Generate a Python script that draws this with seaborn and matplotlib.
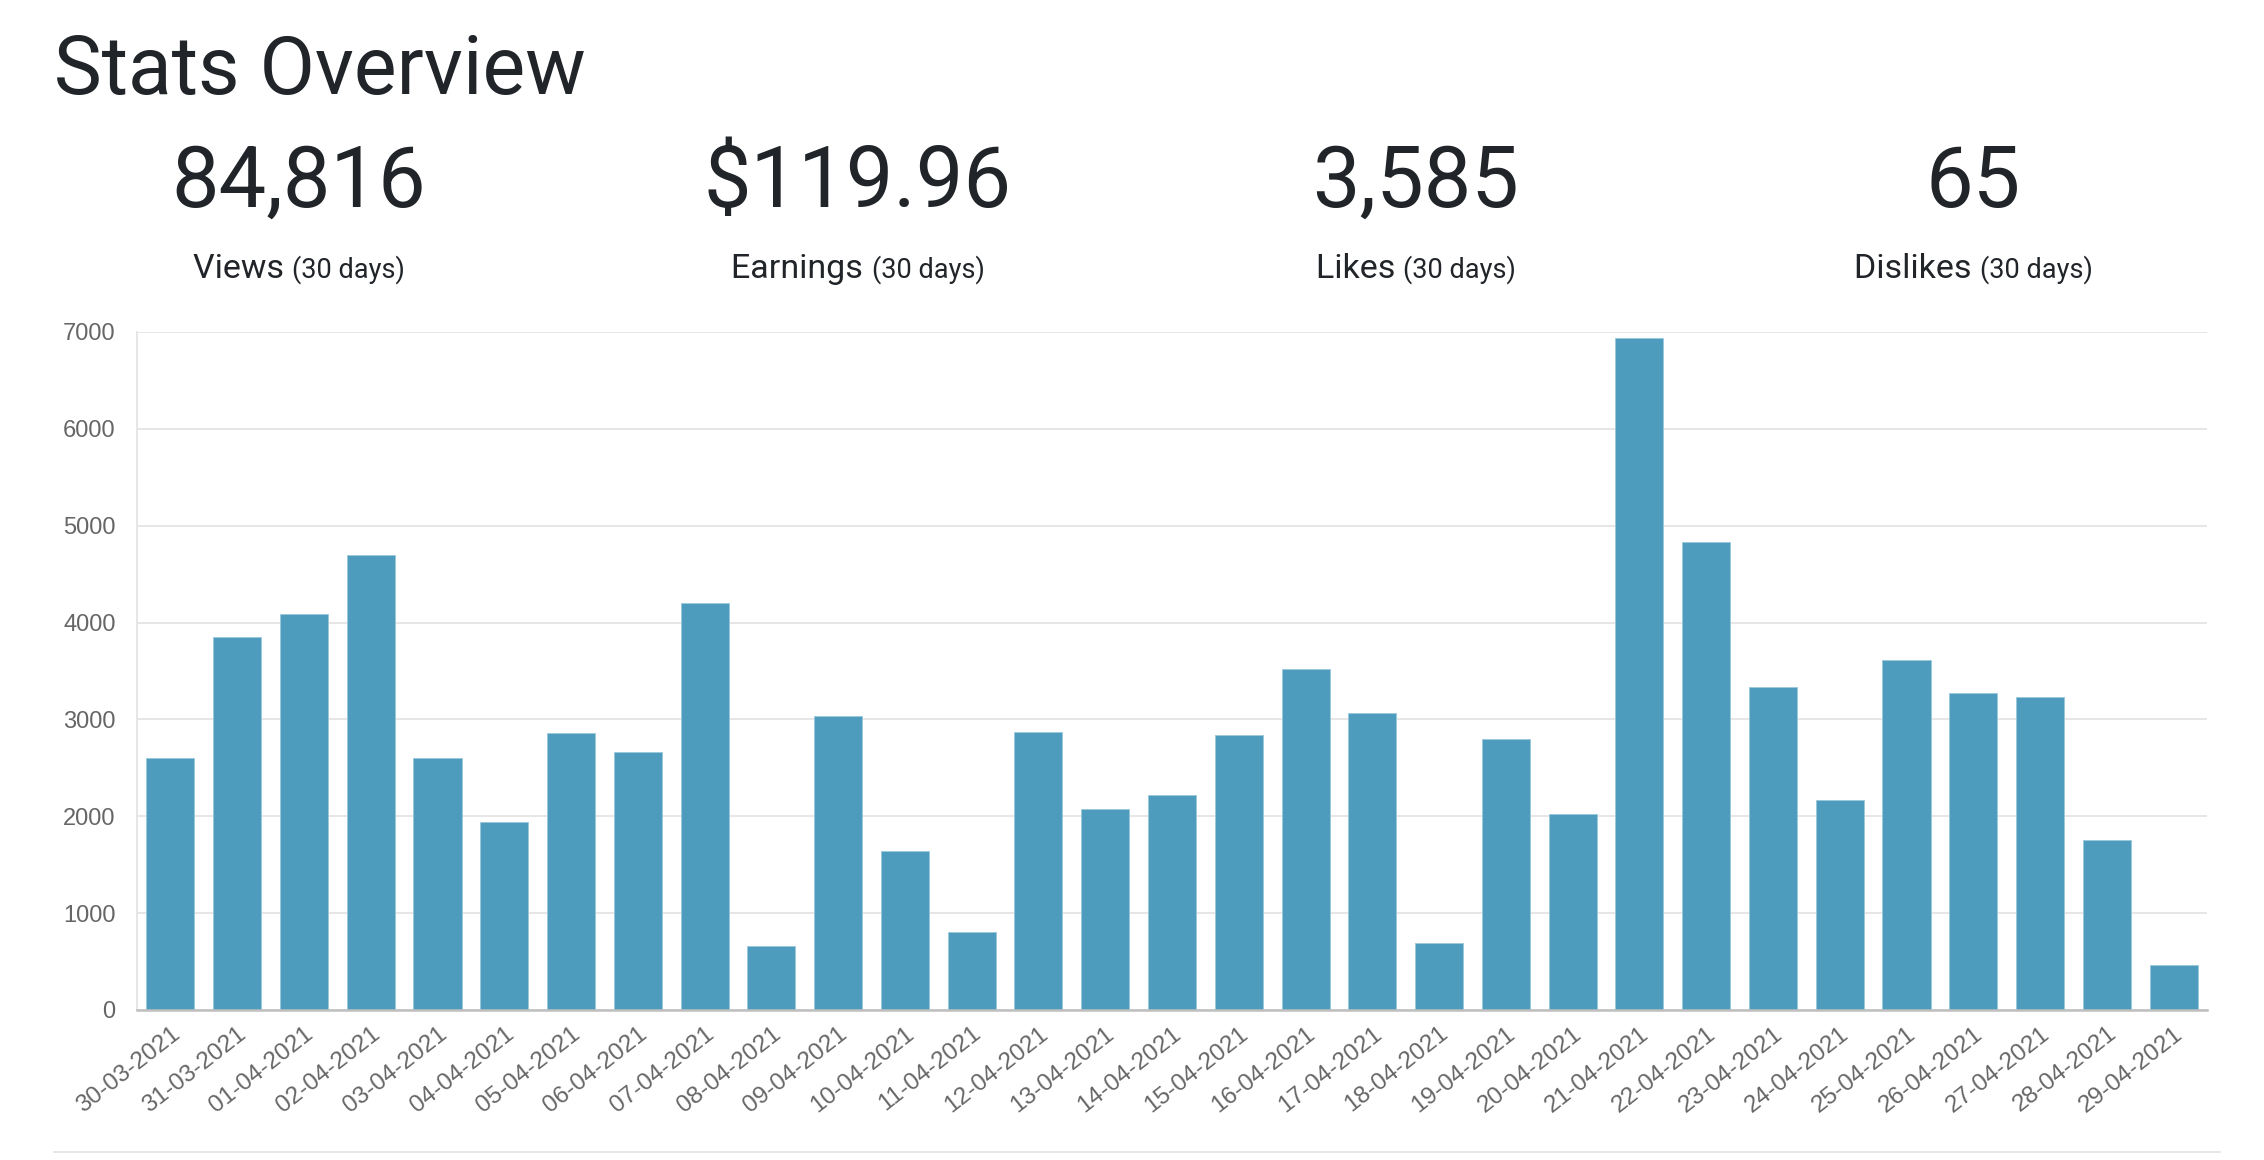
import matplotlib
matplotlib.use("Agg")
import matplotlib.pyplot as plt
import seaborn as sns
import pandas as pd

# daily views
dates = ["30-03-2021", "31-03-2021", "01-04-2021", "02-04-2021", "03-04-2021",
         "04-04-2021", "05-04-2021", "06-04-2021", "07-04-2021", "08-04-2021",
         "09-04-2021", "10-04-2021", "11-04-2021", "12-04-2021", "13-04-2021",
         "14-04-2021", "15-04-2021", "16-04-2021", "17-04-2021", "18-04-2021",
         "19-04-2021", "20-04-2021", "21-04-2021", "22-04-2021", "23-04-2021",
         "24-04-2021", "25-04-2021", "26-04-2021", "27-04-2021", "28-04-2021",
         "29-04-2021"]
views = [2600, 3850, 4090, 4700, 2600, 1944, 2864, 2665, 4201, 664,
         3039, 1641, 801, 2873, 2072, 2219, 2840, 3518, 3063, 688,
         2802, 2020, 6937, 4836, 3338, 2172, 3613, 3272, 3229, 1754,
         460]

stat_values = ["84,816", "$119.96", "3,585", "65"]
stat_names = ["Views", "Earnings", "Likes", "Dislikes"]
stat_note = "(30 days)"
y_ticks = [0, 1000, 2000, 3000, 4000, 5000, 6000, 7000]

df = pd.DataFrame({"date": dates, "views": views})

sns.set_style("white")
plt.rcParams["font.family"] = ["Liberation Sans", "DejaVu Sans"]

W, H = 2264, 1160
fig = plt.figure(figsize=(W / 100, H / 100), dpi=100)

grid_c = "#e6e6e6"
text_c = "#212529"
head_font = ["Roboto", "DejaVu Sans"]


def fx(px):
    return px / W


def fy(py):
    return 1 - py / H


ax = fig.add_axes([fx(137), fy(1010), fx(2207) - fx(137), fy(332) - fy(1010)])
sns.barplot(data=df, x="date", y="views", color="#4d9cbd", width=0.72,
            saturation=1, edgecolor="#9cc8db", linewidth=0.7, ax=ax)

ax.set_xlim(-0.5, len(dates) - 0.5)
ax.set_ylim(0, 7000)
ax.set_yticks(y_ticks)
ax.set_xlabel("")
ax.set_ylabel("")
ax.yaxis.grid(True, color=grid_c, linewidth=1.44)
ax.set_axisbelow(True)

for s in ["top", "right"]:
    ax.spines[s].set_visible(False)
ax.spines["left"].set_color(grid_c)
ax.spines["left"].set_linewidth(1.44)
ax.spines["bottom"].set_color("#bfbfbf")
ax.spines["bottom"].set_linewidth(1.8)

ax.tick_params(axis="y", length=14.4, width=1.44, color=grid_c, pad=1,
               labelsize=17, labelcolor="#666666")
ax.tick_params(axis="x", length=0, pad=9, labelsize=17.5, labelcolor="#666666")
for lab in ax.get_xticklabels():
    lab.set_rotation(38)
    lab.set_ha("right")
    lab.set_va("top")
    lab.set_rotation_mode("anchor")

# header
fig.text(fx(54), fy(94), "Stats Overview", fontsize=58, color=text_c,
         family=head_font, fontweight="normal", ha="left", va="baseline")

centers = [299, 858, 1416, 1973]
fig.canvas.draw()
renderer = fig.canvas.get_renderer()
for cx, val, name in zip(centers, stat_values, stat_names):
    fig.text(fx(cx), fy(207), val, fontsize=61, color=text_c,
             family=head_font, fontweight="normal", ha="center", va="baseline")
    t1 = fig.text(0, fy(278), name + " ", fontsize=24.5, color=text_c,
                  family=head_font, ha="left", va="baseline")
    t2 = fig.text(0, fy(278), stat_note, fontsize=19.5, color=text_c,
                  family=head_font, ha="left", va="baseline")
    w1 = t1.get_window_extent(renderer).width
    w2 = t2.get_window_extent(renderer).width
    left = cx - (w1 + w2) / 2
    t1.set_x(fx(left))
    t2.set_x(fx(left + w1))

# rule under the chart
fig.add_artist(plt.Line2D([fx(54), fx(2220)], [fy(1152), fy(1152)],
                          color=grid_c, linewidth=1.44))

fig.savefig("out.png", dpi=100)
